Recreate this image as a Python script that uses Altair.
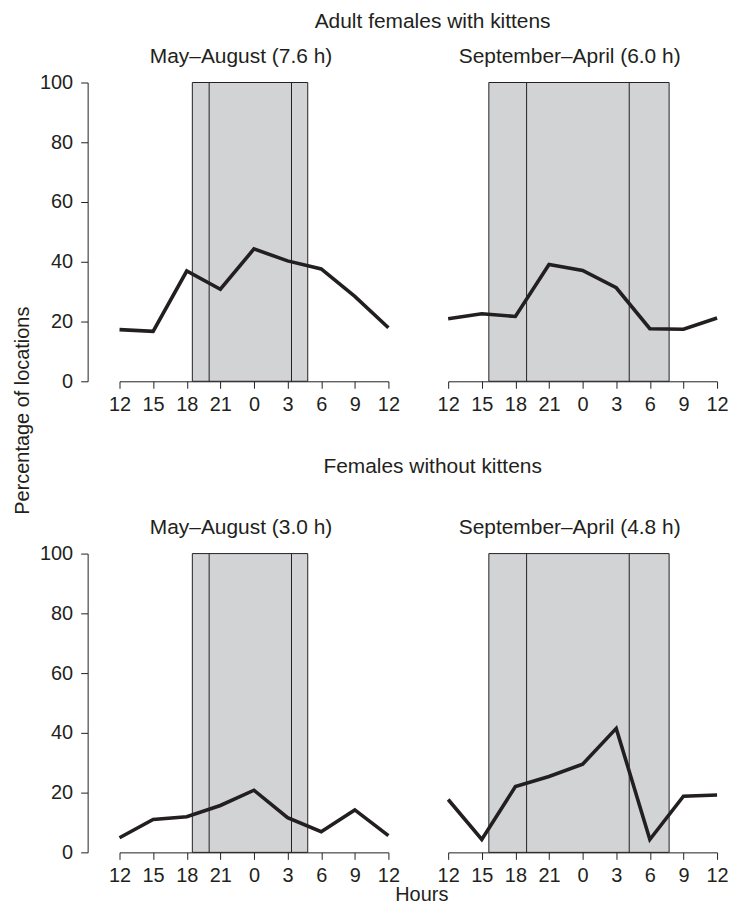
import altair as alt
import pandas as pd

FONT = "Liberation Sans"
INK = "#231f20"
GRAY = "#d1d3d4"

# x positions: hours after 12:00 (noon), labelled as clock hours
hours = [0, 3, 6, 9, 12, 15, 18, 21, 24]
hour_labels = ["12", "15", "18", "21", "0", "3", "6", "9", "12"]
pct_ticks = [0, 20, 40, 60, 80, 100]

# percentage of locations
with_may = [17.3, 16.7, 36.9, 30.8, 44.3, 40.3, 37.6, 28.4, 17.9]
with_sep = [20.9, 22.6, 21.7, 39.1, 37.1, 31.3, 17.6, 17.4, 21.2]
without_may = [4.9, 11.0, 11.9, 15.7, 20.8, 11.6, 6.9, 14.2, 5.6]
without_sep = [17.7, 4.3, 22.0, 25.4, 29.5, 41.5, 4.3, 18.8, 19.2]

# night (outer band) and full darkness (inner lines), hours after noon
may_night = [6.5, 16.8]
may_dark = [8.0, 15.35]
sep_night = [3.63, 19.72]
sep_dark = [7.0, 16.16]

titles = {
    "wm": "May\u2013August (7.6 h)",
    "ws": "September\u2013April (6.0 h)",
    "om": "May\u2013August (3.0 h)",
    "os": "September\u2013April (4.8 h)",
}

label_expr = " : ".join(
    f"datum.value == {h} ? '{l}'" for h, l in zip(hours, hour_labels)
) + " : ''"


def panel(values, night, dark, title, show_y=False, x_title=None, toff=0):
    line_df = pd.DataFrame({"hour": hours, "pct": values})
    band_df = pd.DataFrame({"start": [night[0]], "end": [night[1]], "lo": [0], "hi": [100]})
    dark_df = pd.DataFrame({"x": dark, "lo": [0, 0], "hi": [100, 100]})

    xscale = alt.Scale(domain=[0, 24], nice=False, zero=False)
    yscale = alt.Scale(domain=[0, 100], nice=False)

    xkw = dict(
        values=hours, labelExpr=label_expr, grid=False, tickSize=7, tickColor=INK,
        domainColor=INK, domainWidth=1, tickWidth=1, labelFont=FONT, labelFontSize=20,
        labelColor=INK, labelPadding=6, labelFlush=False, labelOverlap=False,
    )
    if x_title:
        xaxis = alt.Axis(title=x_title, titleFont=FONT, titleFontSize=20, titleFontWeight="normal",
                         titleColor=INK, titleX=303, titleY=48, titleAlign="center",
                         titleBaseline="alphabetic", **xkw)
    else:
        xaxis = alt.Axis(title=None, **xkw)
    if show_y:
        yaxis = alt.Axis(values=pct_ticks, title=None, grid=False, tickSize=7, tickColor=INK,
                         domainColor=INK, domainWidth=1, tickWidth=1, labelFont=FONT,
                         labelFontSize=20, labelColor=INK, labelPadding=8, offset=32,
                         labelFlush=False)
    else:
        yaxis = None

    band = alt.Chart(band_df).mark_rect(fill=GRAY, stroke=INK, strokeWidth=1).encode(
        x=alt.X("start:Q", scale=xscale, axis=xaxis), x2="end:Q",
        y=alt.Y("lo:Q", scale=yscale, axis=yaxis), y2="hi:Q",
    )
    rules = alt.Chart(dark_df).mark_rule(color=INK, strokeWidth=1).encode(
        x=alt.X("x:Q", scale=xscale, axis=xaxis),
        y=alt.Y("lo:Q", scale=yscale, axis=yaxis), y2="hi:Q",
    )
    line = alt.Chart(line_df).mark_line(color=INK, strokeWidth=3.6, strokeJoin="miter").encode(
        x=alt.X("hour:Q", scale=xscale, axis=xaxis),
        y=alt.Y("pct:Q", scale=yscale, axis=yaxis),
    )
    return alt.layer(band, rules, line).properties(
        width=270, height=300,
        title=alt.TitleParams(title, font=FONT, fontSize=21, fontWeight="normal", color=INK,
                              anchor="middle", frame="group", dx=-13, offset=toff,
                              baseline="alphabetic"),
    )


p1 = panel(with_may, may_night, may_dark, titles["wm"], show_y=True, toff=-11)
p2 = panel(with_sep, sep_night, sep_dark, titles["ws"], toff=-1.5)
p3 = panel(without_may, may_night, may_dark, titles["om"], show_y=True, x_title="Hours", toff=-11)
p4 = panel(without_sep, sep_night, sep_dark, titles["os"], toff=-1.5)


def section(text, off):
    return alt.TitleParams(text, font=FONT, fontSize=21, fontWeight="normal", color=INK,
                           anchor="middle", offset=off, dx=49, baseline="alphabetic")


row1 = alt.hconcat(p1, p2, spacing=60, bounds="flush",
                   title=section("Adult females with kittens", -3))
row2 = alt.hconcat(p3, p4, spacing=60, bounds="flush",
                   title=section("Females without kittens", 23))
body = alt.vconcat(row1, row2, spacing=42)

ytitle = alt.Chart(pd.DataFrame({"v": [0]})).mark_point(opacity=0).encode(
    y=alt.Y("v:Q", axis=alt.Axis(title="Percentage of locations", labels=False, ticks=False,
                                 domain=False, grid=False, titleFont=FONT, titleFontSize=20,
                                 titleFontWeight="normal", titleColor=INK, titlePadding=0))
).properties(width=1, height=658, view=alt.ViewBackground(stroke="white"))

chart = alt.hconcat(ytitle, body, spacing=2).properties(
    padding={"left": 12, "top": 9, "right": 5, "bottom": 0},
    background="white",
).configure_view(stroke=None)

chart.save("out.html", embed_options={"renderer": "svg", "actions": False})
